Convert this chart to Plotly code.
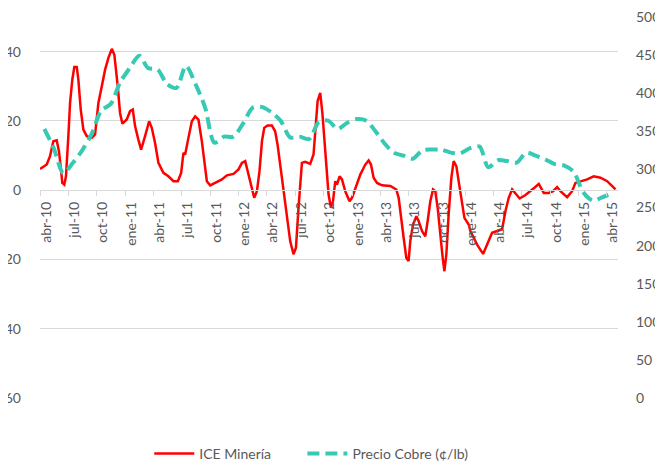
import numpy as np
import pandas as pd
import plotly.graph_objects as go

# ICE Minería: time in months since abr-10, value (left axis)
ice_mes = [0.00, 0.71, 1.06, 1.41, 1.77, 2.01, 2.22, 2.36, 2.57, 2.75, 3.00, 3.18, 3.42,
           3.63, 3.89, 4.06, 4.31, 4.59, 4.95, 5.48, 5.83, 6.01, 6.18, 6.54, 6.89, 7.24,
           7.60, 7.87, 8.05, 8.23, 8.47, 8.72, 9.18, 9.53, 9.82, 10.06, 10.41, 10.70,
           11.12, 11.55, 11.83, 12.18, 12.53, 13.06, 13.59, 14.12, 14.59, 14.94, 15.18,
           15.36, 15.71, 16.07, 16.42, 16.77, 17.13, 17.37, 17.66, 18.01, 18.54, 19.25,
           19.78, 20.48, 21.01, 21.37, 21.72, 22.07, 22.43, 22.67, 22.96, 23.23, 23.49,
           23.73, 24.08, 24.54, 24.89, 25.14, 25.42, 25.77, 26.13, 26.48, 26.83, 27.09,
           27.36, 27.62, 27.72, 28.07, 28.60, 28.95, 29.13, 29.38, 29.66, 29.90, 30.30,
           30.54, 30.79, 31.01, 31.25, 31.43, 31.71, 31.96, 32.31, 32.76, 33.02, 33.37,
           33.90, 34.43, 34.78, 35.03, 35.31, 35.67, 36.20, 37.08, 37.71, 37.96, 38.21,
           38.49, 38.77, 39.01, 39.19, 39.48, 39.83, 40.07, 40.43, 40.78, 41.03, 41.31,
           41.60, 41.84, 42.09, 42.37, 42.62, 42.80, 43.01, 43.25, 43.54, 43.78, 44.07,
           44.31, 44.67, 44.92, 45.37, 45.55, 46.26, 46.90, 47.32, 47.85, 48.38, 48.91,
           49.26, 49.61, 49.97, 50.32, 50.77, 51.38, 51.91, 52.33, 52.79, 53.32, 53.84,
           54.31, 54.73, 55.08, 55.79, 56.32, 56.67, 57.20, 57.91, 58.61, 59.32, 60.03,
           60.56, 60.91]
ice_valor = [6.1, 7.4, 9.8, 14.1, 14.4, 11.2, 6.0, 2.1, 1.6, 4.0, 15.6, 25.2, 31.9,
             35.6, 35.6, 31.9, 23.3, 17.5, 15.6, 15.1, 16.1, 20.4, 25.2, 30.0, 34.8, 38.2,
             40.8, 39.1, 34.8, 30.0, 22.3, 19.2, 20.4, 22.8, 23.3, 18.5, 14.6, 11.7,
             15.6, 19.9, 18.0, 13.6, 7.9, 5.0, 4.0, 2.6, 2.6, 5.0, 10.8,
             10.3, 15.1, 19.9, 21.3, 20.4, 14.1, 8.4, 2.6, 1.4, 2.1, 3.1,
             4.3, 4.7, 6.0, 7.9, 8.4, 4.5, -0.3, -2.2, -0.3, 5.5, 14.1,
             18.0, 18.7, 18.7, 17.0, 13.2, 7.4, -0.3, -7.0, -14.7, -18.5, -16.6,
             -5.1, 4.5, 7.9, 8.2, 7.6, 10.3, 17.0, 25.7, 28.1, 21.8, 7.4,
             -1.2, -5.1, -3.2, 2.6, 1.6, 4.0, 3.1, -0.3, -3.2, -2.2, 0.7,
             4.5, 7.4, 8.6, 7.4, 3.6, 2.1, 1.4, 1.2, 0.2, -2.2, -7.0,
             -13.8, -19.5, -20.5, -14.7, -9.9, -7.5, -8.9, -11.8, -13.3, -8.9, -3.2,
             0.2, -0.3, -5.1, -13.8, -19.5, -23.4, -18.5, -7.0, 3.6, 8.4, 6.9,
             2.6, -3.2, -8.0, -9.9, -11.8, -15.7, -18.4, -15.7, -12.3, -11.8, -11.3,
             -6.1, -2.2, 0.2, -0.8, -2.4, -1.4, -0.3, 0.7, 1.8, -0.8, -0.8,
             -0.3, 0.9, -0.3, -2.0, -0.3, 2.1, 2.6, 3.1, 4.0, 3.6, 2.6,
             1.2, 0.2]

# Precio Cobre (c/lb), monthly abr-10 .. abr-15 (right axis)
cobre = [353, 328, 295, 308, 325, 347, 377, 386, 414, 433, 449, 433, 431, 412, 407,
         436, 412, 381, 335, 343, 343, 360, 381, 382, 375, 364, 342, 343, 340, 362,
         364, 353, 361, 366, 364, 351, 334, 322, 318, 314, 325, 326, 326, 322, 321,
         328, 330, 303, 312, 311, 309, 322, 318, 313, 307, 305, 297, 270, 259, 263,
         268]

tick_labels = ["abr-10", "jul-10", "oct-10", "ene-11", "abr-11", "jul-11", "oct-11",
               "ene-12", "abr-12", "jul-12", "oct-12", "ene-13", "abr-13", "jul-13",
               "oct-13", "ene-14", "abr-14", "jul-14", "oct-14", "ene-15", "abr-15"]

inicio = pd.Timestamp("2010-04-01")
ice_fechas = inicio + pd.to_timedelta(np.array(ice_mes) * 30.4375, unit="D")
cobre_fechas = pd.date_range(inicio, periods=len(cobre), freq="MS") + pd.Timedelta(days=14)
tick_fechas = pd.date_range(inicio, periods=len(tick_labels), freq="3MS")

GRAY = "#595959"
GRID = "#d9d9d9"
FONT = dict(family="Lato, Carlito, Calibri, sans-serif", size=14, color=GRAY)

fig = go.Figure()
fig.add_trace(go.Scatter(x=ice_fechas, y=ice_valor, name="ICE Minería", mode="lines",
                         line=dict(color="#ff0000", width=2.5), yaxis="y",
                         legend="legend"))
fig.add_trace(go.Scatter(x=cobre_fechas, y=cobre, name="Precio Cobre (¢/lb)", mode="lines",
                         line=dict(color="#36c9b4", width=4, dash="12px,6px",
                                   shape="spline", smoothing=0.8),
                         yaxis="y2", legend="legend2"))

# the page adds an 8px body margin, so the figure is 8px smaller and shifted
leyenda = dict(orientation="h", xanchor="left", y=-0.147, yanchor="middle",
               font=FONT, itemwidth=40, bgcolor="rgba(0,0,0,0)")
fig.update_layout(
    width=655, height=455,
    margin=dict(l=32, r=45, t=9, b=65, autoexpand=False),
    paper_bgcolor="white", plot_bgcolor="white",
    font=FONT,
    showlegend=True,
    legend=dict(leyenda, x=0.189),
    legend2=dict(leyenda, x=0.454),
    xaxis=dict(
        type="date", automargin=False,
        range=[inicio, pd.Timestamp("2015-05-07")],
        anchor="free", position=60 / 110,
        showgrid=False, zeroline=False,
        showline=True, linecolor=GRID, linewidth=1,
        ticks="outside", ticklen=5, tickcolor=GRID,
        tickvals=tick_fechas, ticktext=tick_labels,
        tickangle=-90, ticklabelshift=6, tickfont=FONT,
    ),
    yaxis=dict(
        automargin=False,
        range=[-60, 50], tick0=0, dtick=20,
        showgrid=True, gridcolor=GRID, gridwidth=1,
        zeroline=False, showline=False,
        ticklabelstandoff=18, ticklabeloverflow="allow", tickfont=FONT,
    ),
    yaxis2=dict(
        automargin=False,
        range=[0, 500], dtick=50, overlaying="y", side="right",
        showgrid=False, zeroline=False, showline=False,
        ticklabelstandoff=17, ticklabeloverflow="allow", tickfont=FONT,
    ),
)

fig.write_html("out.html")
